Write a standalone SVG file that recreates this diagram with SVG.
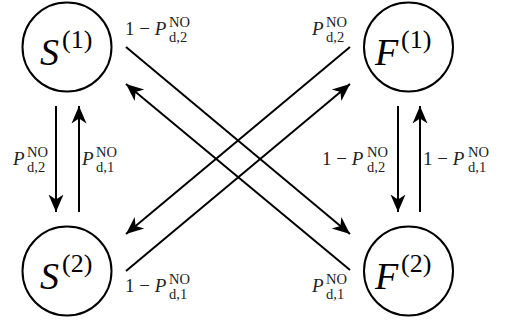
<svg xmlns="http://www.w3.org/2000/svg" width="507" height="324" viewBox="0 0 507 324">
<style>
.node{fill:#fff;stroke:#000;stroke-width:2}
.big{font-family:"Liberation Serif","DejaVu Serif",serif;font-size:38px;font-style:italic;fill:#000}
.sup{font-family:"Liberation Serif","DejaVu Serif",serif;font-size:26px;font-style:normal;fill:#000}
.lbl{font-family:"Liberation Serif","DejaVu Serif",serif;font-size:19px;fill:#222}
.it{font-style:italic}
.sc{font-size:14.5px}
.edge{fill:none;stroke:#000;stroke-width:2;marker-end:url(#ah)}
</style>
<defs>
<marker id="ah" markerUnits="userSpaceOnUse" markerWidth="20" markerHeight="20" viewBox="-14 -7 16 14" refX="0" refY="0" orient="auto">
<path d="M0,0 L-14,-6 L-10,0 L-14,6 Z" fill="#000"/>
</marker>
</defs>
<rect width="507" height="324" fill="#fff"/>
<g id="connectors">
<line class="edge" x1="56" y1="106" x2="56" y2="212"/>
<line class="edge" x1="79" y1="212" x2="79" y2="106"/>
<line class="edge" x1="398" y1="106" x2="398" y2="212"/>
<line class="edge" x1="420" y1="212" x2="420" y2="106"/>
<line class="edge" x1="126" y1="47" x2="350" y2="234"/>
<line class="edge" x1="350" y1="270" x2="126" y2="84"/>
<line class="edge" x1="350" y1="47" x2="126" y2="234"/>
<line class="edge" x1="126" y1="271" x2="350" y2="84"/>
<text class="lbl"><tspan x="125" y="35">1 − </tspan><tspan class="it">P</tspan><tspan class="sc" x="169" y="27">NO</tspan><tspan class="sc" x="169" y="42">d,2</tspan></text>
<text class="lbl"><tspan x="312" y="35" class="it">P</tspan><tspan class="sc" x="326" y="27">NO</tspan><tspan class="sc" x="326" y="42">d,2</tspan></text>
<text class="lbl"><tspan x="13" y="165" class="it">P</tspan><tspan class="sc" x="27" y="157">NO</tspan><tspan class="sc" x="27" y="172">d,2</tspan></text>
<text class="lbl"><tspan x="82" y="165" class="it">P</tspan><tspan class="sc" x="96" y="157">NO</tspan><tspan class="sc" x="96" y="172">d,1</tspan></text>
<text class="lbl"><tspan x="322" y="165">1 − </tspan><tspan class="it">P</tspan><tspan class="sc" x="367" y="157">NO</tspan><tspan class="sc" x="367" y="172">d,2</tspan></text>
<text class="lbl"><tspan x="423" y="165">1 − </tspan><tspan class="it">P</tspan><tspan class="sc" x="468" y="157">NO</tspan><tspan class="sc" x="468" y="172">d,1</tspan></text>
<text class="lbl"><tspan x="125" y="292">1 − </tspan><tspan class="it">P</tspan><tspan class="sc" x="169" y="284">NO</tspan><tspan class="sc" x="169" y="299">d,1</tspan></text>
<text class="lbl"><tspan x="312" y="292" class="it">P</tspan><tspan class="sc" x="326" y="284">NO</tspan><tspan class="sc" x="326" y="299">d,1</tspan></text>
</g>
<g id="S1">
<circle class="node" cx="67" cy="47" r="44.5"/>
<text class="big" x="40" y="65">S<tspan class="sup" x="62" y="48">(1)</tspan></text>
</g>
<g id="F1">
<circle class="node" cx="408.5" cy="47" r="44.5"/>
<text class="big" x="375" y="65">F<tspan class="sup" x="401" y="48">(1)</tspan></text>
</g>
<g id="S2">
<circle class="node" cx="67" cy="271" r="44.5"/>
<text class="big" x="40" y="289">S<tspan class="sup" x="62" y="272">(2)</tspan></text>
</g>
<g id="F2">
<circle class="node" cx="408.5" cy="271" r="44.5"/>
<text class="big" x="375" y="289">F<tspan class="sup" x="401" y="272">(2)</tspan></text>
</g>
</svg>
